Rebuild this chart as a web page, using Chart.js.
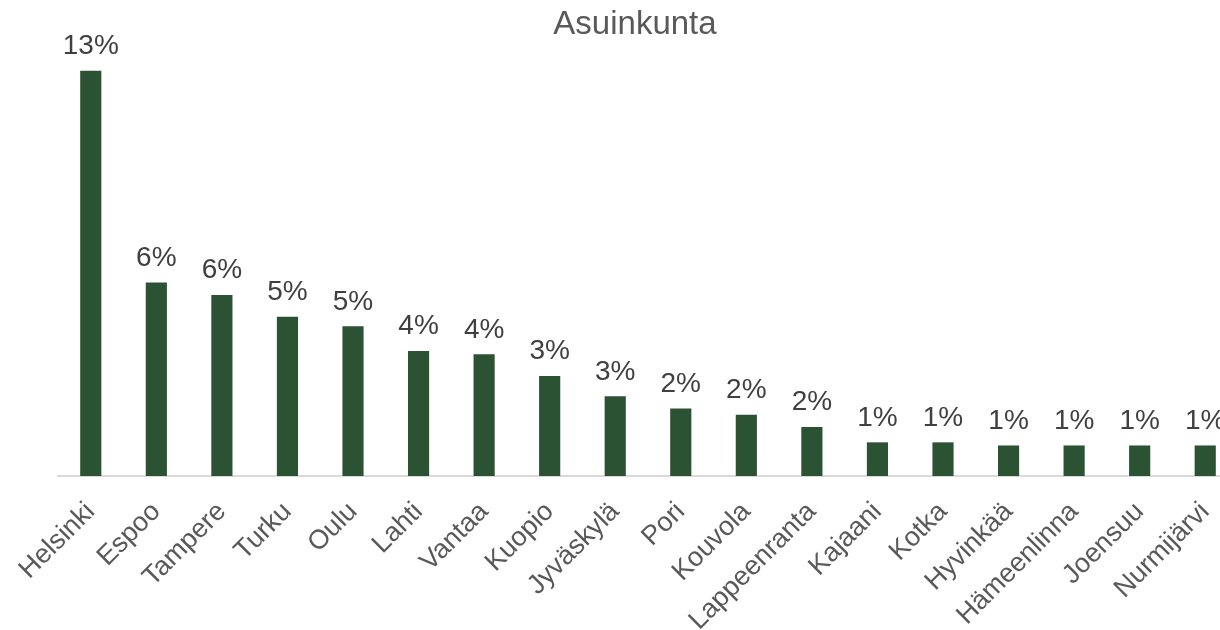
<!DOCTYPE html>
<html>
<head>
<meta charset="utf-8">
<script src="https://cdn.jsdelivr.net/npm/chart.js@4/dist/chart.umd.min.js"></script>
<style>
  html, body { margin: 0; padding: 0; background: #ffffff; overflow: hidden; }
  #wrap { width: 1270px; height: 630px; position: relative; }
</style>
</head>
<body>
<div id="wrap"><canvas id="c"></canvas></div>
<script>
const chartTitle = "Asuinkunta";
const categories = ["Helsinki", "Espoo", "Tampere", "Turku", "Oulu", "Lahti", "Vantaa", "Kuopio", "Jyväskylä", "Pori", "Kouvola", "Lappeenranta", "Kajaani", "Kotka", "Hyvinkää", "Hämeenlinna", "Joensuu", "Nurmijärvi"];
const shares = [13.0, 6.2, 5.8, 5.1, 4.8, 4.0, 3.9, 3.2, 2.55, 2.16, 1.96, 1.56, 1.07, 1.07, 0.97, 0.97, 0.97, 0.97];

const FONT = "'Liberation Sans', Arial, sans-serif";

const valueLabels = {
  id: 'valueLabels',
  afterDatasetsDraw(chart) {
    const ctx = chart.ctx;
    const meta = chart.getDatasetMeta(0);
    ctx.save();
    ctx.font = "28px " + FONT;
    ctx.fillStyle = "#404040";
    ctx.textAlign = "center";
    ctx.textBaseline = "alphabetic";
    meta.data.forEach((bar, i) => {
      const v = chart.data.datasets[0].data[i];
      ctx.fillText(Math.round(v) + "%", bar.x, bar.y - 17);
    });
    ctx.restore();
  }
};

const titlePlugin = {
  id: 'centredTitle',
  afterDraw(chart) {
    const ctx = chart.ctx;
    ctx.save();
    ctx.font = "33px " + FONT;
    ctx.fillStyle = "#595959";
    ctx.textAlign = "center";
    ctx.textBaseline = "alphabetic";
    ctx.fillText(chartTitle, 635, 34);
    ctx.restore();
  }
};

new Chart(document.getElementById('c'), {
  type: 'bar',
  data: {
    labels: categories,
    datasets: [{
      data: shares,
      backgroundColor: '#2c5234',
      borderWidth: 0,
      barThickness: 20.5
    }]
  },
  options: {
    responsive: true,
    maintainAspectRatio: false,
    animation: false,
    layout: { padding: { left: 58, right: 32, top: 40, bottom: 0 } },
    plugins: {
      legend: { display: false },
      tooltip: { enabled: false },
      title: { display: false }
    },
    scales: {
      x: {
        grid: { display: false, drawTicks: false },
        border: { display: true, color: '#d9d9d9', width: 2 },
        ticks: {
          color: '#595959',
          font: { family: FONT, size: 27 },
          autoSkip: false,
          maxRotation: 45,
          minRotation: 45,
          padding: 20
        },
        afterFit(scale) { scale.height = 154; }
      },
      y: {
        display: false,
        min: 0,
        max: 14
      }
    }
  },
  plugins: [valueLabels, titlePlugin]
});
</script>
</body>
</html>
